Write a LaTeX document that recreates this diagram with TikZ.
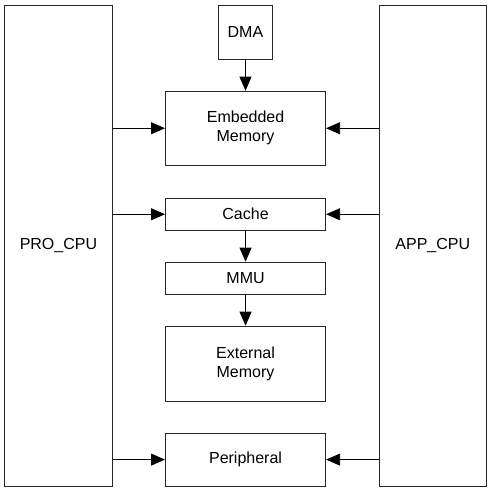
\documentclass[tikz,border=0pt]{standalone}
\usepackage{fontspec}
\setmainfont{Liberation Sans}
\usetikzlibrary{arrows.meta}
\begin{document}
\begin{tikzpicture}[x=1pt,y=-1pt,
  box/.style={draw=black!85, line width=0.8pt, inner sep=0pt, anchor=north west,
    font=\fontsize{16}{19}\selectfont, align=center},
  conn/.style={draw=black, line width=0.8pt, -{Triangle[length=14pt,width=12pt]}}]
\useasboundingbox (0,0) rectangle (490,490);
\node[box, minimum width=107.5pt, minimum height=480.5pt] (pro) at (4.3,5.3) {PRO\_CPU};
\node[box, minimum width=106.7pt, minimum height=480.5pt] (app) at (379,5.3) {APP\_CPU};
\node[box, minimum width=53.4pt, minimum height=53.4pt] (dma) at (218.3,5.3) {DMA};
\node[box, minimum width=160.3pt, minimum height=74.3pt] (emb) at (165,90.7) {Embedded\\Memory};
\node[box, minimum width=160.3pt, minimum height=32.3pt] (cache) at (165,197.7) {Cache};
\node[box, minimum width=160.3pt, minimum height=32.3pt] (mmu) at (165,261.7) {MMU};
\node[box, minimum width=160.3pt, minimum height=75pt] (ext) at (165,325.7) {External\\Memory};
\node[box, minimum width=160.3pt, minimum height=53pt] (per) at (165,432.7) {Peripheral};
\draw[conn] (dma.south) -- (emb.north);
\draw[conn] (cache.south) -- (mmu.north);
\draw[conn] (mmu.south) -- (ext.north);
\draw[conn] (pro.east |- emb.west) -- (emb.west);
\draw[conn] (pro.east |- cache.west) -- (cache.west);
\draw[conn] (pro.east |- per.west) -- (per.west);
\draw[conn] (app.west |- emb.east) -- (emb.east);
\draw[conn] (app.west |- cache.east) -- (cache.east);
\draw[conn] (app.west |- per.east) -- (per.east);
\end{tikzpicture}
\end{document}
